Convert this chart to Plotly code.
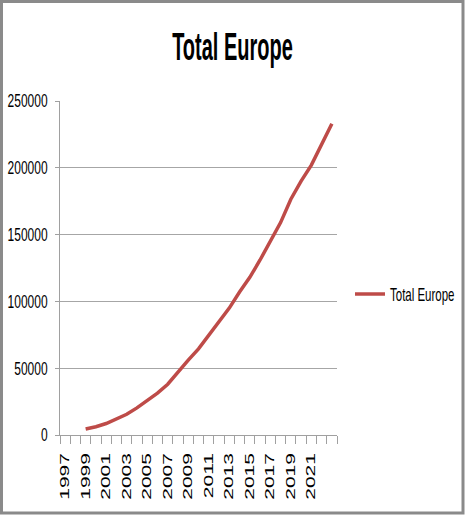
import plotly.graph_objects as go

# Data
years = [1999, 2000, 2001, 2002, 2003, 2004, 2005, 2006, 2007, 2008, 2009, 2010,
         2011, 2012, 2013, 2014, 2015, 2016, 2017, 2018, 2019, 2020, 2021, 2022, 2023]
total_europe = [4500, 6200, 8600, 11700, 15500, 20300, 25600, 31400, 38000, 47500,
                56000, 64500, 75000, 85000, 95000, 107000, 118000, 131000, 145000,
                159000, 176500, 190000, 202000, 217000, 233000]
x_tick_labels = [1997, 1999, 2001, 2003, 2005, 2007, 2009, 2011, 2013, 2015, 2017, 2019, 2021]
y_ticks = [0, 50000, 100000, 150000, 200000, 250000]

SANS = "Liberation Sans, Arial, sans-serif"

W, H = 465, 516
L, R, T, B = 60, 128, 101, 81
pw, ph = W - L - R, H - T - B

fig = go.Figure()
fig.add_trace(go.Scatter(
    x=years, y=total_europe, mode="lines", name="Total Europe",
    line=dict(color="#be4b48", width=3.5),
))

fig.update_layout(
    width=W, height=H,
    margin=dict(l=L, r=R, t=T, b=B, autoexpand=False),
    paper_bgcolor="white", plot_bgcolor="white",
    title=dict(text="<b>Total Europe</b>", x=0.5, xref="container", y=1 - 47 / H,
               yref="container", yanchor="middle", xanchor="center",
               font=dict(family=SANS, size=20, color="black")),
    showlegend=True,
    legend=dict(x=(350 - L) / pw, y=(435 - 294) / ph, xanchor="left", yanchor="middle",
                font=dict(family=SANS, size=11.5, color="black"),
                bgcolor="rgba(0,0,0,0)"),
    xaxis=dict(
        range=[1996.5, 2023.5], tickmode="array", tickvals=x_tick_labels,
        ticktext=[str(v) for v in x_tick_labels], tickangle=-90,
        ticks="", ticklabelstandoff=12,
        tickfont=dict(family=SANS, size=12, color="black"),
        showgrid=False, showline=True, linecolor="#a0a0a0", linewidth=1,
        zeroline=False, fixedrange=True,
        minor=dict(tick0=1996.5, dtick=1, ticks="outside", ticklen=8,
                   tickcolor="#a0a0a0", tickwidth=1, showgrid=False),
    ),
    yaxis=dict(
        range=[0, 250000], tickmode="array", tickvals=y_ticks, tickformat="d",
        ticks="outside", ticklen=4, tickcolor="#a0a0a0", ticklabelstandoff=5,
        tickfont=dict(family=SANS, size=12, color="black"),
        showgrid=True, gridcolor="#a6a6a6", gridwidth=1,
        showline=True, linecolor="#a0a0a0", linewidth=1, zeroline=False,
        fixedrange=True,
    ),
    shapes=[dict(type="rect", xref="paper", yref="paper",
                 x0=(1.5 - L) / pw, x1=(463 - L) / pw,
                 y0=(H - B - 513) / ph, y1=(H - B - 1.5) / ph,
                 line=dict(color="#8a8a8a", width=3), fillcolor="rgba(0,0,0,0)",
                 layer="above")],
)

# The reference chart is a vertically stretched picture: stretch the text the same way
post = """
document.body.style.margin='0';
document.body.style.overflow='hidden';
function stretch(sel, sx, sy, ax){
  document.querySelectorAll(sel).forEach(function(t){
    var bb = t.getBBox();
    var cx = ax==='end' ? bb.x+bb.width : (ax==='start' ? bb.x : bb.x+bb.width/2);
    var cy = bb.y + bb.height/2;
    var old = t.getAttribute('transform') || '';
    t.setAttribute('transform', old + ' translate('+cx+','+cy+') scale('+sx+','+sy+') translate('+(-cx)+','+(-cy)+')');
  });
}
stretch('.ytick text', 1, 1.55, 'end');
stretch('.xtick text', 1.75, 1, 'end');
stretch('.gtitle', 1, 1.9, 'center');
stretch('.legendtext', 1, 1.6, 'start');
"""

fig.write_html("out.html", post_script=post, config={"displayModeBar": False})
